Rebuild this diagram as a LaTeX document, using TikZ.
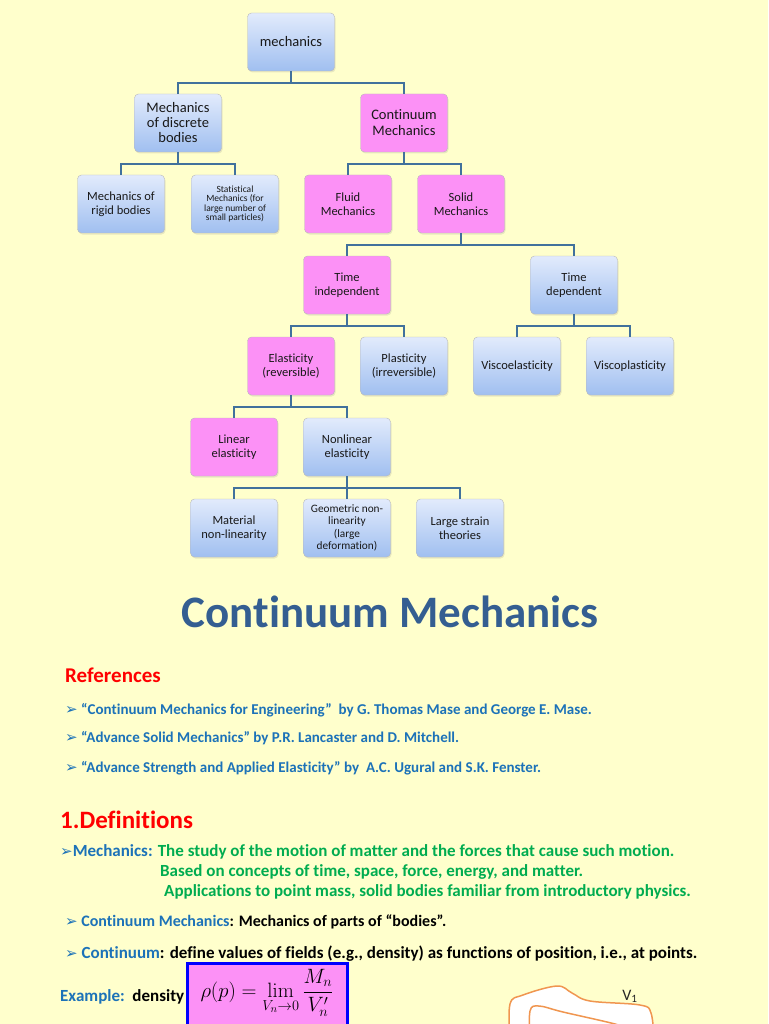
\documentclass[tikz,border=0pt]{standalone}
\usepackage{amsmath}
\usepackage[no-math]{fontspec}
\setmainfont{Carlito}[Ligatures=NoCommon]
\newfontfamily\symfont{DejaVu Sans}
\usepackage{xcolor}
\usepackage{tikz}
\usetikzlibrary{positioning, shadows, calc}

\definecolor{paper}{RGB}{255,255,204}
\definecolor{bluetop}{RGB}{226,235,252}
\definecolor{bluebot}{RGB}{160,191,240}
\definecolor{pinkfill}{RGB}{252,145,246}
\definecolor{linkblue}{RGB}{65,113,156}
\definecolor{titleblue}{RGB}{52,94,145}
\definecolor{refblue}{RGB}{28,114,184}
\definecolor{defgreen}{RGB}{0,172,80}
\definecolor{blobline}{RGB}{240,150,80}

\newcommand{\arr}{{\symfont\fontsize{15}{15}\selectfont ➢}}

\begin{document}
\begin{tikzpicture}[x=1pt, y=-1pt,
  box/.style={draw=gray!55, rounded corners=4pt, minimum width=87pt, minimum height=58pt,
    align=center, text=black!90, font=\fontsize{12.5}{14}\selectfont,
    drop shadow={opacity=0.18, shadow xshift=1pt, shadow yshift=-1.5pt}},
  bluebox/.style={box, top color=bluetop, bottom color=bluebot},
  pinkbox/.style={box, fill=pinkfill},
  link/.style={draw=linkblue, line width=1.8pt},
  txt/.style={anchor=base west, inner sep=0pt, font=\bfseries\fontsize{15}{18}\selectfont},
  deftxt/.style={txt, font=\bfseries\fontsize{17}{20}\selectfont}]

  \useasboundingbox (0,0) rectangle (768,1024);
  \fill[paper] (0,0) rectangle (768,1024);

  % tree
  \node[bluebox, font=\fontsize{14.5}{16}\selectfont] (mech) at (291,42) {mechanics};
  \node[bluebox, font=\fontsize{14.5}{15}\selectfont] (disc) at (178,123) {Mechanics\\of discrete\\bodies};
  \node[pinkbox, font=\fontsize{14.5}{16}\selectfont] (cont) at (404,123) {Continuum\\Mechanics};
  \node[bluebox] (rigid) at (121,204) {Mechanics of\\rigid bodies};
  \node[bluebox, font=\fontsize{9.5}{9.5}\selectfont] (stat) at (235,204) {Statistical\\Mechanics (for\\large number of\\small particles)};
  \node[pinkbox] (fluid) at (348,204) {Fluid\\Mechanics};
  \node[pinkbox] (solid) at (461,204) {Solid\\Mechanics};
  \node[pinkbox] (tind) at (347,285) {Time\\independent};
  \node[bluebox] (tdep) at (574,285) {Time\\dependent};
  \node[pinkbox] (elas) at (291,366) {Elasticity\\(reversible)};
  \node[bluebox] (plas) at (404,366) {Plasticity\\(irreversible)};
  \node[bluebox] (vel) at (517,366) {Viscoelasticity};
  \node[bluebox] (vpl) at (630,366) {Viscoplasticity};
  \node[pinkbox] (lin) at (234,447) {Linear\\elasticity};
  \node[bluebox] (nlin) at (347,447) {Nonlinear\\elasticity};
  \node[bluebox] (mat) at (234,528) {Material\\non-linearity};
  \node[bluebox, font=\fontsize{11.3}{12.5}\selectfont] (geo) at (347,528) {Geometric non-\\linearity\\(large\\deformation)};
  \node[bluebox] (lstr) at (460,528) {Large strain\\theories};

  \draw[link] (mech.south) -- ++(0,11.5) -| (disc.north);
  \draw[link] (mech.south) -- ++(0,11.5) -| (cont.north);
  \draw[link] (disc.south) -- ++(0,11.5) -| (rigid.north);
  \draw[link] (disc.south) -- ++(0,11.5) -| (stat.north);
  \draw[link] (cont.south) -- ++(0,11.5) -| (fluid.north);
  \draw[link] (cont.south) -- ++(0,11.5) -| (solid.north);
  \draw[link] (solid.south) -- ++(0,11.5) -| (tind.north);
  \draw[link] (solid.south) -- ++(0,11.5) -| (tdep.north);
  \draw[link] (tind.south) -- ++(0,11.5) -| (elas.north);
  \draw[link] (tind.south) -- ++(0,11.5) -| (plas.north);
  \draw[link] (tdep.south) -- ++(0,11.5) -| (vel.north);
  \draw[link] (tdep.south) -- ++(0,11.5) -| (vpl.north);
  \draw[link] (elas.south) -- ++(0,11.5) -| (lin.north);
  \draw[link] (elas.south) -- ++(0,11.5) -| (nlin.north);
  \draw[link] (nlin.south) -- ++(0,11.5) -| (mat.north);
  \draw[link] (nlin.south) -- ++(0,11.5) -| (geo.north);
  \draw[link] (nlin.south) -- ++(0,11.5) -| (lstr.north);

  % title and references
  \node[text=titleblue, font=\bfseries\fontsize{45}{50}\selectfont] (title) at (390,612) {Continuum Mechanics};
  \node[txt, text=red, font=\bfseries\fontsize{21}{24}\selectfont] (refs) at (65,682) {References};
  \node[txt, text=refblue] (ref1) at (65,714) {\arr\ “Continuum Mechanics for Engineering”\ \ by G. Thomas Mase and George E. Mase.};
  \node[txt, text=refblue] (ref2) at (65,742) {\arr\ “Advance Solid Mechanics” by P.R. Lancaster and D. Mitchell.};
  \node[txt, text=refblue] (ref3) at (65,772) {\arr\ “Advance Strength and Applied Elasticity” by\ \ A.C. Ugural and S.K. Fenster.};

  % definitions
  \node[txt, text=red, font=\bfseries\fontsize{25}{28}\selectfont] (defs) at (60,828) {1.Definitions};
  \node[deftxt, text=refblue] (d1) at (60,856) {\arr Mechanics: \textcolor{defgreen}{The study of the motion of matter and the forces that cause such motion.}};
  \node[deftxt, text=defgreen] (d2) at (160,876) {Based on concepts of time, space, force, energy, and matter.};
  \node[deftxt, text=defgreen] (d3) at (164,896) {Applications to point mass, solid bodies familiar from introductory physics.};
  \node[deftxt, text=refblue, font=\bfseries\fontsize{16}{19}\selectfont] (d4) at (65,926) {\arr\ Continuum Mechanics\textcolor{black}{: Mechanics of parts of “bodies”.}};
  \node[deftxt, text=refblue] (d5) at (65,958) {\arr\ Continuum\textcolor{black}{: define values of fields (e.g., density) as functions of position, i.e., at points.}};
  \node[deftxt, text=refblue] (ex) at (60,1001) {Example:\ \ \textcolor{black}{density}};

  \draw[draw=blue, line width=3pt, fill=pinkfill] (187,963) rectangle (347,1040);
  \node[inner sep=0pt, font=\fontsize{22.5}{26}\selectfont] (rho) at (267,993)
    {$\displaystyle \rho(p)=\lim_{V_n\to 0}\frac{M_n}{V_n'}$};

  % body sketch
  \draw[blobline, line width=1.5pt, fill=white] plot[smooth, tension=0.6] coordinates
    {(510,1040) (510,1004) (523,995) (557,986) (572,993) (590,1001) (640,1005) (651,1013) (654,1040)};
  \draw[blobline, line width=1.5pt] plot[smooth, tension=0.6] coordinates
    {(530,1040) (530,1011) (539,1006) (563,1012) (615,1024) (630,1030)};
  \node[anchor=base, font=\fontsize{16}{18}\selectfont, text=black!85] (v1) at (630,1000) {V\textsubscript{1}};
\end{tikzpicture}
\end{document}
